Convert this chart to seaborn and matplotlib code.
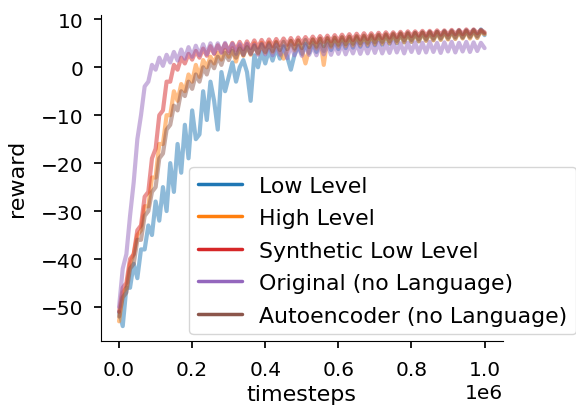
import numpy as np
import pandas as pd
import seaborn as sns
import matplotlib.pyplot as plt

# timesteps (in millions), one sample every 10k steps
steps = np.round(np.arange(0, 101) * 0.01, 2) * 1e6

low_level = [
    -51, -54, -46, -46, -41, -44, -38, -38, -33, -35,
    -28, -32, -25, -30, -20, -26, -16, -22, -12, -19,
    -9, -15, -14, -5, -11, -3, -7, -13, -1, -5,
    -2, 1, -3, 0, 1.5, -1, -7, 2.5, 0, 3.2,
    0.8, 3.6, 1.4, 4.0, 1.8, 4.3, 2.2, -0.5, 2.6, 4.6,
    2.8, 4.9, 3.0, 5.1, 3.2, 5.3, 3.4, 5.5, 3.6, 5.6,
    3.8, 5.8, 4.0, 5.9, 4.1, 6.1, 4.3, 6.2, 4.4, 6.3,
    4.6, 6.5, 4.7, 6.6, 4.9, 6.7, 5.0, 6.9, 5.2, 7.0,
    5.3, 7.1, 5.4, 7.2, 5.6, 7.3, 5.7, 7.4, 5.8, 7.5,
    5.9, 7.6, 6.0, 7.7, 6.1, 7.7, 6.2, 7.8, 6.2, 7.9,
    6.7]
high_level = [
    -53, -47, -46, -41, -39, -35, -34, -29, -29, -23,
    -23, -16, -16, -10, -10, -5, -7, -3.5, -5, -1.5,
    -3, 0.5, -2, 1.5, 0, 2.2, 0.8, 3.0, 1.6, 3.6,
    2.2, 4.0, 1.2, 4.4, 2.4, 4.8, 2.6, 5.0, 2.8, 5.1,
    3.0, 5.2, 3.1, 5.3, 3.2, 1.8, 3.4, 5.5, 3.5, 5.6,
    3.6, 0.8, 3.8, 5.8, 3.9, 5.9, 0.5, 6.0, 4.2, 6.1,
    4.3, 6.2, 4.4, 6.3, 4.5, 6.4, 4.6, 6.5, 4.7, 6.6,
    4.8, 6.7, 4.9, 6.8, 5.0, 6.9, 5.1, 7.0, 5.2, 7.0,
    5.3, 7.1, 5.4, 7.2, 5.5, 7.2, 5.6, 7.3, 5.7, 7.3,
    5.8, 7.4, 5.9, 7.4, 6.0, 7.5, 6.0, 7.5, 6.1, 7.5,
    6.9]
synthetic = [
    -51, -46, -45, -40, -39, -34, -33, -27, -26, -19,
    -17, -10, -9, -3, -3, 0.5, -0.5, 2.0, 0.8, 2.8,
    1.6, 3.4, 2.0, 3.9, 2.4, 4.4, 2.8, 4.6, 3.2, 4.9,
    3.4, 5.1, 3.6, 5.3, 3.8, 5.4, 4.0, 5.6, 4.1, 5.7,
    4.3, 5.8, 4.4, 5.9, 4.6, 6.0, 4.7, 6.1, 4.8, 6.2,
    5.0, 6.3, 5.1, 6.4, 5.2, 6.5, 5.3, 6.6, 5.4, 6.7,
    5.5, 6.8, 5.6, 6.9, 5.7, 7.0, 5.8, 7.1, 5.9, 7.1,
    6.0, 7.2, 6.1, 7.3, 6.2, 7.3, 6.3, 7.4, 6.4, 7.5,
    6.5, 7.5, 6.6, 7.6, 6.6, 7.6, 6.7, 7.7, 6.8, 7.7,
    6.8, 7.8, 6.9, 7.8, 6.9, 7.9, 7.0, 7.9, 7.1, 7.8,
    7.3]
original = [
    -50, -42, -39, -31, -24, -15, -10, -4, -3, 0.5,
    -0.5, 2.0, 0.3, 2.6, 1.0, 3.2, 1.4, 3.7, 1.8, 4.2,
    2.2, 4.5, 2.5, 4.8, 2.7, 5.0, 2.9, 5.0, 3.0, 5.1,
    3.0, 4.9, 2.8, 4.8, 2.7, 4.9, 2.8, 4.7, 2.6, 4.8,
    2.7, 4.6, 2.5, 4.7, 2.6, 4.5, 1.9, 4.6, 2.5, 4.4,
    2.4, 4.6, 2.6, 4.5, 2.5, 4.7, 2.7, 4.8, 2.6, 4.7,
    2.8, 4.9, 2.7, 4.7, 2.9, 5.0, 2.8, 4.9, 2.9, 5.0,
    3.0, 5.1, 2.9, 4.9, 3.0, 5.2, 3.1, 5.0, 2.9, 5.1,
    3.2, 5.2, 3.0, 5.1, 3.1, 5.3, 3.2, 5.1, 3.0, 5.2,
    3.3, 5.3, 3.1, 5.1, 3.3, 5.3, 3.2, 5.2, 3.4, 5.1,
    4.0]
autoencoder = [
    -52, -48, -47, -42, -41, -36, -36, -31, -30, -26,
    -25, -19, -18, -13, -12, -8, -9, -5, -6, -3,
    -4.5, -1.5, -3, 0, -1.5, 1.2, -0.2, 2.2, 0.5, 3.0,
    1.5, 3.4, 2.0, 3.9, 2.5, 4.2, 2.8, 4.5, 3.0, 4.8,
    3.2, 5.0, 3.4, 5.2, 3.6, 5.3, 3.8, 5.5, 3.9, 5.6,
    4.0, 5.7, 4.2, 5.8, 4.3, 6.0, 4.4, 6.1, 4.5, 6.2,
    4.7, 6.3, 4.8, 6.4, 4.9, 6.5, 5.0, 6.6, 5.1, 6.7,
    5.2, 6.8, 5.3, 6.9, 5.4, 7.0, 5.5, 7.1, 5.6, 7.2,
    5.7, 7.2, 5.8, 7.3, 5.9, 7.4, 6.0, 7.4, 6.1, 7.5,
    6.2, 7.5, 6.3, 7.6, 6.3, 7.6, 6.4, 7.7, 6.5, 7.7,
    7.1]

names = ["Low Level", "High Level", "Synthetic Low Level",
         "Original (no Language)", "Autoencoder (no Language)"]
series = [low_level, high_level, synthetic, original, autoencoder]
colors = ["#1f77b4", "#ff7f0e", "#d62728", "#9467bd", "#8c564b"]

df = pd.concat([pd.DataFrame({"timesteps": steps, "reward": s, "run": n})
                for n, s in zip(names, series)])

sns.set_style("ticks", {"text.color": "black", "axes.labelcolor": "black",
                        "xtick.color": "black", "ytick.color": "black",
                        "axes.edgecolor": "black"})
plt.rcParams["font.size"] = 16

fig = plt.figure(figsize=(5.76, 4.1), dpi=100)
ax = fig.add_axes([0.175, 0.166, 0.698, 0.796])
sns.lineplot(data=df, x="timesteps", y="reward", hue="run", palette=colors,
             alpha=0.5, lw=3, ax=ax)
sns.despine()
ax.tick_params(labelsize=14.5, length=5, width=1.25)
ax.tick_params(axis="x", pad=8.5)
ax.tick_params(axis="y", pad=7.5)
ax.set_xlabel("timesteps", fontsize=16)
ax.set_ylabel("reward", fontsize=16, labelpad=10)
ax.xaxis.get_offset_text().set_fontsize(14.5)
ax.set_yticks([-50, -40, -30, -20, -10, 0, 10])

leg = ax.legend(loc="lower right", bbox_to_anchor=(1.183, 0.02),
                borderaxespad=0, fontsize=15.8, labelspacing=0.57)
for line in leg.get_lines():
    line.set_alpha(1)
    line.set_linewidth(2.5)

fig.savefig("out.png", dpi=100)
